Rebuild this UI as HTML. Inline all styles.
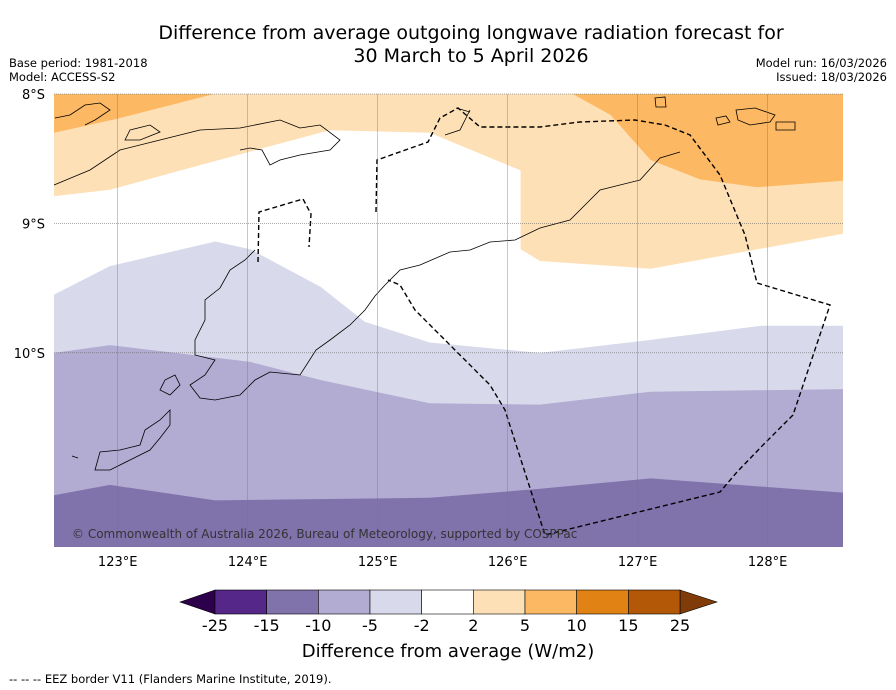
<!DOCTYPE html>
<html><head><meta charset="utf-8"><style>
body{margin:0;background:#fff;font-family:"Liberation Sans","DejaVu Sans",sans-serif}
#wrap{position:relative;width:896px;height:690px;overflow:hidden}
</style></head><body>
<div id="wrap">
<svg id="svg" width="896" height="690" xmlns="http://www.w3.org/2000/svg" font-family="DejaVu Sans, Liberation Sans, sans-serif">
<text x="471" y="39" text-anchor="middle" font-size="19">Difference from average outgoing longwave radiation forecast for</text>
<text x="471" y="62" text-anchor="middle" font-size="19">30 March to 5 April 2026</text>
<text x="9" y="67" font-size="11.5">Base period: 1981-2018</text>
<text x="9" y="81" font-size="11.5">Model: ACCESS-S2</text>
<text x="887" y="67" font-size="11.5" text-anchor="end">Model run: 16/03/2026</text>
<text x="887" y="81" font-size="11.5" text-anchor="end">Issued: 18/03/2026</text>
<g id="map"></g>
<g id="cbar"></g>
<text x="448" y="657" text-anchor="middle" font-size="18">Difference from average (W/m2)</text>
<text x="9" y="683" font-size="11.5">--  --  -- EEZ border V11 (Flanders Marine Institute, 2019).</text>
</svg>
</div>
<script>
const lonTicks=[123,124,125,126,127,128];
const latTicks=[8,9,10];
const levels=["-25","-15","-10","-5","-2","2","5","10","15","25"];
const cbColors=["#2d004b","#542788","#8073ac","#b2abd2","#d8daeb","#ffffff","#fee0b6","#fdb863","#e08214","#b35806","#7f3b08"];
const darkOrange=[[122.5,8],[123.74,8],[123.0,8.19],[122.5,8.30]];
const darkOrangeR=[[126.5,8],[126.79,8.16],[127.1,8.51],[127.48,8.66],[127.92,8.72],[128.58,8.67],[128.58,8]];
const lightOrange=[[122.5,8],[128.58,8],[128.58,9.08],[127.1,9.35],[126.25,9.29],[126.1,9.2],[126.1,8.59],[125.4,8.3],[124.63,8.28],[123.63,8.55],[122.94,8.74],[122.5,8.79]];
const lightPurpleTop=[[122.5,9.55],[122.94,9.33],[123.75,9.14],[124.02,9.2],[124.56,9.49],[124.9,9.76],[125.4,9.92],[126.25,10.0],[127.1,9.9],[127.95,9.79],[128.58,9.79]];
const midPurpleTop=[[122.5,10.0],[122.94,9.94],[124.02,10.07],[124.56,10.21],[125.4,10.39],[126.25,10.4],[127.1,10.3],[128.58,10.28]];
const darkPurpleTop=[[122.5,11.1],[122.94,11.02],[123.75,11.14],[125.4,11.12],[126.25,11.05],[127.1,10.97],[128.58,11.08]];
const ns="http://www.w3.org/2000/svg";
const X0=54,X1=843,Y0=94,Y1=547,LON0=122.51,LON1=128.58,LAT0=8,LAT1=11.5;
const x=l=>X0+(l-LON0)*(X1-X0)/(LON1-LON0);
const y=l=>Y0+(l-LAT0)*(Y1-Y0)/(LAT1-LAT0);
const map=document.getElementById('map');
function mk(tag,attrs,parent){const e=document.createElementNS(ns,tag);for(const k in attrs)e.setAttribute(k,attrs[k]);parent.appendChild(e);return e;}
function cx(v){return Math.max(X0,Math.min(X1,v));}
function pts(a){return a.map(p=>cx(x(p[0])).toFixed(1)+','+y(p[1]).toFixed(1)).join(' ');}
function band(top,col,name){const poly=top.concat([[LON1,LAT1],[LON0,LAT1]]);const p=mk('polygon',{points:pts(poly),fill:col},map);

}
band(lightPurpleTop,"#d8daeb","band-minus5");
band(midPurpleTop,"#b2abd2","band-minus10");
band(darkPurpleTop,"#8073ac","band-minus15");
[[lightOrange,"#fee0b6","band-plus2"],[darkOrange,"#fdb863","band-plus5-left"],[darkOrangeR,"#fdb863","band-plus5-right"]].forEach(d=>{
const p=mk('polygon',{points:pts(d[0]),fill:d[1]},map);

});
const coast=mk('path',{d:"M54,185 L90,170 L120,150 L160,140 L200,130 L240,128 L280,120 L300,128 L320,125 L340,140 L330,150 L300,155 L280,160 L270,165 L262,150 L250,148 L240,150 M470,110 L460,130 L445,135 M456,108 L470,112 M680,152 L660,158 L640,180 L600,190 L585,205 L570,220 L540,228 L515,240 L490,242 L470,250 L450,252 L420,265 L400,270 L385,285 L375,296 L365,310 L350,325 L330,340 L316,350 L300,375 L270,372 L255,380 L240,395 L215,400 L200,398 L190,385 L205,375 L215,360 L195,355 L195,340 L205,320 L205,300 L220,288 L230,270 L245,260 L255,250 M175,375 L165,380 L160,390 L170,395 L180,385 Z M170,410 L160,420 L145,430 L140,445 L120,450 L100,452 L95,470 L110,470 L130,460 L150,450 L160,438 L170,425 Z M72,456 L78,458 M55,118 L70,115 L85,105 L100,103 L110,110 L95,120 L85,125 M130,130 L150,125 L160,132 L140,140 L125,140 Z M736,110 L755,108 L775,115 L770,122 L750,125 L738,120 Z M716,118 L726,116 L730,122 L718,125 Z M776,122 L795,122 L795,130 L776,130 Z M655,98 L665,97 L666,107 L656,107 Z",fill:"none",stroke:"#000","stroke-width":"0.8"},map);


const eez1=mk('polyline',{points:"258,262 259,212 303,199 311,214 309,247",fill:"none",stroke:"#000","stroke-width":"1.4","stroke-dasharray":"5,3"},map);


const eez2=mk('polyline',{points:"376,212 377,160 428,142 440,118 458,108 480,127 540,127 580,122 635,120 665,125 690,135 720,175 745,235 757,283 830,305 793,415 763,445 737,472 720,492 545,535 505,410 490,385 445,340 415,310 400,285 388,280",fill:"none",stroke:"#000","stroke-width":"1.4","stroke-dasharray":"5,3"},map);


lonTicks.forEach(l=>{const g=mk('line',{x1:x(l),x2:x(l),y1:Y0,y2:Y1,stroke:"#777","stroke-width":"0.4"},map);


const t=mk('text',{x:x(l),y:566,"text-anchor":"middle","font-size":"13"},map);t.textContent=l+"°E";

});
latTicks.forEach(l=>{const g=mk('line',{x1:X0,x2:X1,y1:y(l),y2:y(l),stroke:"#555","stroke-width":"0.5","stroke-dasharray":"1,1"},map);


const t=mk('text',{x:45,y:y(l)+5,"text-anchor":"end","font-size":"13"},map);t.textContent=l+"°S";

});
const cr=mk('text',{x:72,y:538,"font-size":"12",fill:"#333"},map);cr.textContent="© Commonwealth of Australia 2026, Bureau of Meteorology, supported by COSPPac";


const cb=document.getElementById('cbar');const bx0=215,bx1=680,by0=590,by1=614,bw=(bx1-bx0)/(levels.length-1);
const lt=mk('polygon',{points:`180,602 ${bx0},${by0} ${bx0},${by1}`,fill:cbColors[0],stroke:"#000","stroke-width":"0.6"},cb);


const rt=mk('polygon',{points:`717,602 ${bx1},${by0} ${bx1},${by1}`,fill:cbColors[cbColors.length-1],stroke:"#000","stroke-width":"0.6"},cb);


for(let i=0;i<levels.length-1;i++){const r=mk('rect',{x:bx0+i*bw,y:by0,width:bw,height:by1-by0,fill:cbColors[i+1],stroke:"#000","stroke-width":"0.6"},cb);

}
levels.forEach((v,i)=>{const t=mk('text',{x:bx0+i*bw,y:631,"text-anchor":"middle","font-size":"16"},cb);t.textContent=v;

});
</script>
</body></html>
